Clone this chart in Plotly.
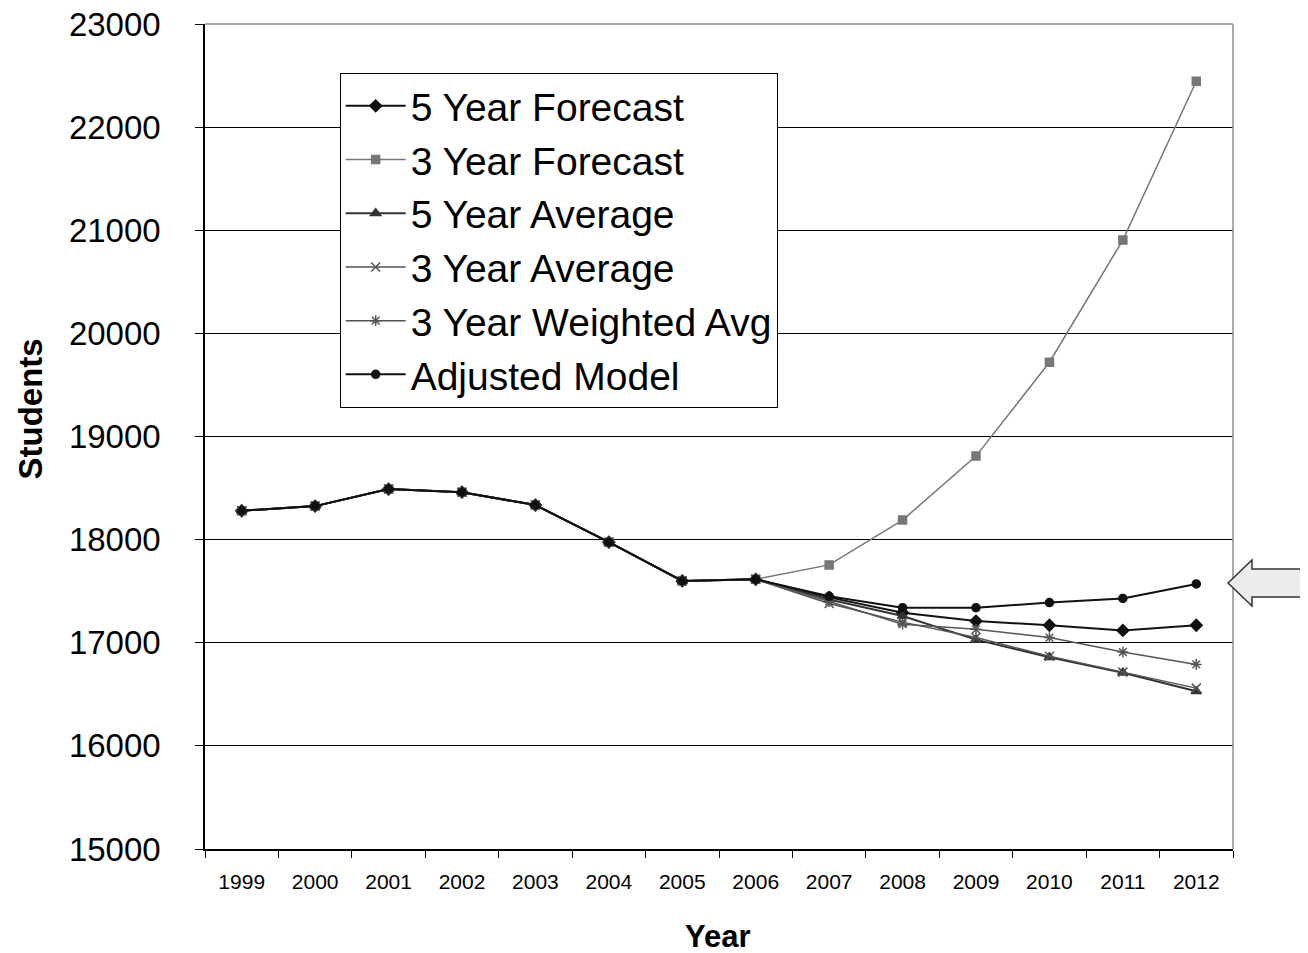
import plotly.graph_objects as go

years = ["1999", "2000", "2001", "2002", "2003", "2004", "2005", "2006",
         "2007", "2008", "2009", "2010", "2011", "2012"]
history = [18280, 18325, 18490, 18460, 18335, 17975, 17600, 17615]

five_year_forecast = history + [17440, 17290, 17210, 17170, 17120, 17170]
three_year_forecast = history + [17755, 18190, 18810, 19720, 20905, 22445]
five_year_average = history + [17420, 17260, 17030, 16860, 16710, 16530]
three_year_average = history + [17380, 17200, 17050, 16870, 16715, 16560]
three_year_weighted = history + [17400, 17180, 17130, 17050, 16910, 16790]
adjusted_model = history + [17450, 17340, 17340, 17390, 17430, 17570]

series = [
    ("5 Year Forecast", five_year_forecast, "diamond", "#111111", 2, 9),
    ("3 Year Forecast", three_year_forecast, "square", "#777777", 1.5, 8),
    ("5 Year Average", five_year_average, "triangle-up", "#333333", 2, 9),
    ("3 Year Average", three_year_average, "x-thin-open", "#555555", 1.5, 9),
    ("3 Year Weighted Avg", three_year_weighted, "asterisk-open", "#555555", 1.5, 9),
    ("Adjusted Model", adjusted_model, "circle", "#111111", 2, 8),
]

fig = go.Figure()
for name, vals, sym, col, lw, ms in series:
    fig.add_trace(go.Scatter(
        x=years, y=vals, name=name, mode="lines+markers",
        line=dict(color=col, width=lw),
        marker=dict(symbol=sym, size=ms, color=col, line=dict(color=col, width=1.5)),
    ))

font_family = "Liberation Sans, Arial, sans-serif"

# page offset (~8px body margin) compensated in margins
fig.update_layout(
    width=1308, height=953,
    margin=dict(l=197, r=83, t=16, b=112, autoexpand=False),
    paper_bgcolor="white", plot_bgcolor="white",
    font=dict(family=font_family, color="black"),
    showlegend=True,
    legend=dict(
        x=0.131, y=0.9406, xanchor="left", yanchor="top",
        bordercolor="black", borderwidth=1, bgcolor="white",
        font=dict(size=39, family=font_family, color="black"),
        tracegroupgap=0, itemwidth=60,
    ),
    xaxis=dict(
        type="category", range=[-0.5, 13.5],
        showgrid=False, showline=True, linecolor="black", linewidth=1.5,
        ticks="outside", tickson="boundaries", ticklen=7, tickcolor="black",
        tickfont=dict(size=21), ticklabelstandoff=13,
    ),
    yaxis=dict(
        range=[15000, 23000], dtick=1000, tickformat="d",
        showgrid=True, gridcolor="black", gridwidth=1.3,
        showline=True, linecolor="black", linewidth=1.5,
        ticks="outside", ticklen=8, tickcolor="black",
        tickfont=dict(size=33), ticklabelstandoff=28,
        ticklabeloverflow="allow",
        zeroline=False,
    ),
    annotations=[
        dict(text="<b>Year</b>", x=0.499, y=-0.1055, xref="paper", yref="paper",
             xanchor="center", yanchor="middle", showarrow=False,
             font=dict(size=31, family=font_family, color="black")),
        dict(text="<b>Students</b>", x=-0.170, y=0.533, xref="paper", yref="paper",
             xanchor="center", yanchor="middle", showarrow=False, textangle=-90,
             font=dict(size=33, family=font_family, color="black")),
    ],
)

# gray frame (top and right) of the plot area
fig.add_shape(type="line", xref="paper", yref="paper", x0=0, x1=1, y0=1, y1=1,
              line=dict(color="#8c8c8c", width=1.5))
fig.add_shape(type="line", xref="paper", yref="paper", x0=1, x1=1, y0=0, y1=1,
              line=dict(color="#8c8c8c", width=1.5))

# block arrow at the right pointing to the adjusted model
W = 1028.0
H = 825.0
def px(x):
    return (x - 205) / W
def py(y):
    return (849 - y) / H
pts = [(1228, 583), (1252, 560), (1252, 569), (1320, 569), (1320, 597), (1252, 597), (1252, 606)]
path = "M " + " L ".join(f"{px(a):.5f},{py(b):.5f}" for a, b in pts) + " Z"
fig.add_shape(type="path", xref="paper", yref="paper", path=path,
              fillcolor="#ececec", line=dict(color="#333333", width=1.5), layer="above")

fig.write_html("out.html")
